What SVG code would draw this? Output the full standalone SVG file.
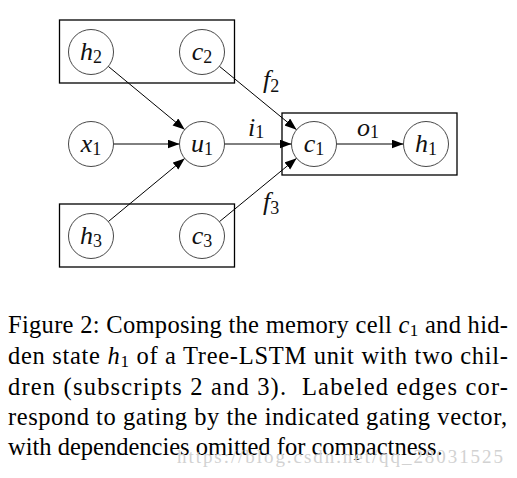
<svg xmlns="http://www.w3.org/2000/svg" width="517" height="478" viewBox="0 0 517 478">
<style>
.box{fill:none;stroke:#000;stroke-width:1.3}
.node{fill:#fff;stroke:#333;stroke-width:0.9}
.edge{fill:none;stroke:#000;stroke-width:1}
.lbl{font-family:"Liberation Serif",serif;font-style:italic;font-size:26px;fill:#111}
.sub{font-style:normal;font-size:18px}
.cap{font-family:"Liberation Serif",serif;font-size:24.5px;fill:#000}
.ci{font-style:italic}
.cs{font-size:17px}
.wm{font-family:"Liberation Serif",serif;font-size:19px;fill:#d2d2d2}
</style>
<defs>
<marker id="arr" markerUnits="userSpaceOnUse" markerWidth="13" markerHeight="10" refX="12" refY="4.5" orient="auto">
<path d="M0,0 L12,4.5 L0,9 z" fill="#000"/>
</marker>
</defs>
<g id="boxes">
<rect class="box" x="59.5" y="20" width="175" height="63"/>
<rect class="box" x="59.5" y="204" width="175" height="63"/>
<rect class="box" x="282" y="113" width="175" height="62"/>
</g>
<g id="connectors">
<line class="edge" x1="108.3" y1="66.4" x2="184.7" y2="129.6" marker-end="url(#arr)"/>
<line class="edge" x1="219.4" y1="66.3" x2="296.6" y2="129.7" marker-end="url(#arr)"/>
<line class="edge" x1="108.3" y1="221.6" x2="184.7" y2="158.4" marker-end="url(#arr)"/>
<line class="edge" x1="219.4" y1="221.7" x2="296.6" y2="158.3" marker-end="url(#arr)"/>
<line class="edge" x1="113.5" y1="144" x2="179.5" y2="144" marker-end="url(#arr)"/>
<line class="edge" x1="224.5" y1="144" x2="291.5" y2="144" marker-end="url(#arr)"/>
<line class="edge" x1="336.5" y1="144" x2="403.5" y2="144" marker-end="url(#arr)"/>
<text class="lbl" x="263" y="88">f<tspan class="sub" dy="4">2</tspan></text>
<text class="lbl" x="248" y="136">i<tspan class="sub" dy="2">1</tspan></text>
<text class="lbl" x="357" y="136">o<tspan class="sub" dy="2">1</tspan></text>
<text class="lbl" x="263" y="210">f<tspan class="sub" dy="4">3</tspan></text>
</g>
<g id="h2"><circle class="node" cx="91" cy="52" r="22.5"/><text class="lbl" x="91" y="60" text-anchor="middle">h<tspan class="sub" dy="3">2</tspan></text></g>
<g id="c2"><circle class="node" cx="202" cy="52" r="22.5"/><text class="lbl" x="202" y="60" text-anchor="middle">c<tspan class="sub" dy="3">2</tspan></text></g>
<g id="x1"><circle class="node" cx="91" cy="144" r="22.5"/><text class="lbl" x="91" y="152" text-anchor="middle">x<tspan class="sub" dy="3">1</tspan></text></g>
<g id="u1"><circle class="node" cx="202" cy="144" r="22.5"/><text class="lbl" x="202" y="152" text-anchor="middle">u<tspan class="sub" dy="3">1</tspan></text></g>
<g id="h3"><circle class="node" cx="91" cy="236" r="22.5"/><text class="lbl" x="91" y="244" text-anchor="middle">h<tspan class="sub" dy="3">3</tspan></text></g>
<g id="c3"><circle class="node" cx="202" cy="236" r="22.5"/><text class="lbl" x="202" y="244" text-anchor="middle">c<tspan class="sub" dy="3">3</tspan></text></g>
<g id="c1"><circle class="node" cx="314" cy="144" r="22.5"/><text class="lbl" x="314" y="152" text-anchor="middle">c<tspan class="sub" dy="3">1</tspan></text></g>
<g id="h1"><circle class="node" cx="426" cy="144" r="22.5"/><text class="lbl" x="426" y="152" text-anchor="middle">h<tspan class="sub" dy="3">1</tspan></text></g>
<g id="caption">
<text class="cap" x="8" y="333" textLength="500" lengthAdjust="spacing">Figure 2: Composing the memory cell <tspan class="ci">c</tspan><tspan class="cs" dy="3">1</tspan><tspan dy="-3"> and hid-</tspan></text>
<text class="cap" x="8" y="364" textLength="500" lengthAdjust="spacing">den state <tspan class="ci">h</tspan><tspan class="cs" dy="3">1</tspan><tspan dy="-3"> of a Tree-LSTM unit with two chil-</tspan></text>
<text class="cap" x="8" y="395" textLength="500" lengthAdjust="spacing">dren (subscripts 2 and 3).&#160; Labeled edges cor-</text>
<text class="cap" x="8" y="425" textLength="499" lengthAdjust="spacing">respond to gating by the indicated gating vector,</text>
<text class="cap" x="8" y="455">with dependencies omitted for compactness.</text>
<text class="wm" x="177" y="463" textLength="326" lengthAdjust="spacing">https://blog.csdn.net/qq_28031525</text>
</g>
</svg>
